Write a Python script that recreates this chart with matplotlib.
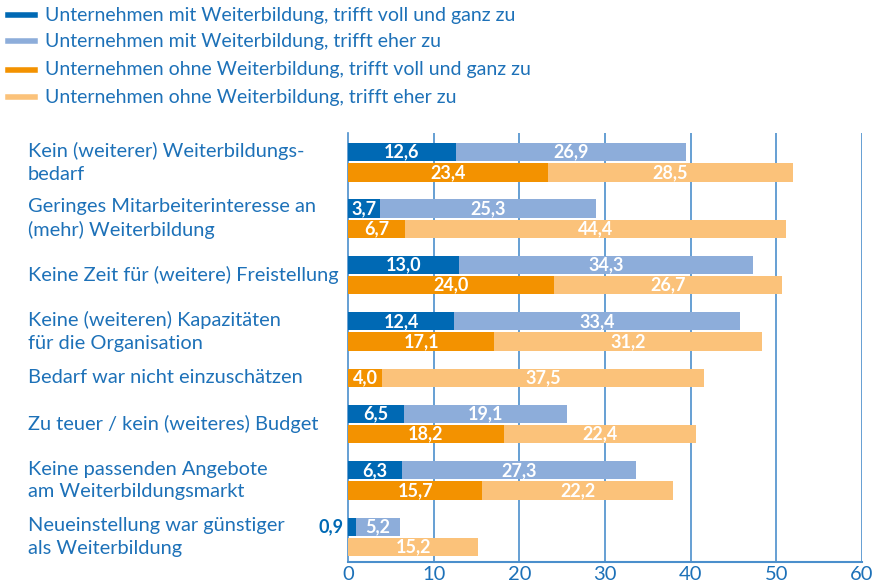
import matplotlib
matplotlib.use("Agg")
import matplotlib.pyplot as plt
import matplotlib.transforms as mtransforms
from matplotlib.lines import Line2D

plt.rcParams['font.family'] = ['Lato', 'DejaVu Sans']

categories = [
    "Kein (weiterer) Weiterbildungs-\nbedarf",
    "Geringes Mitarbeiterinteresse an\n(mehr) Weiterbildung",
    "Keine Zeit für (weitere) Freistellung",
    "Keine (weiteren) Kapazitäten\nfür die Organisation",
    "Bedarf war nicht einzuschätzen",
    "Zu teuer / kein (weiteres) Budget",
    "Keine passenden Angebote\nam Weiterbildungsmarkt",
    "Neueinstellung war günstiger\nals Weiterbildung",
]
mit_voll = [12.6, 3.7, 13.0, 12.4, None, 6.5, 6.3, 0.9]
mit_eher = [26.9, 25.3, 34.3, 33.4, None, 19.1, 27.3, 5.2]
ohne_voll = [23.4, 6.7, 24.0, 17.1, 4.0, 18.2, 15.7, None]
ohne_eher = [28.5, 44.4, 26.7, 31.2, 37.5, 22.4, 22.2, 15.2]

legend_labels = [
    "Unternehmen mit Weiterbildung, trifft voll und ganz zu",
    "Unternehmen mit Weiterbildung, trifft eher zu",
    "Unternehmen ohne Weiterbildung, trifft voll und ganz zu",
    "Unternehmen ohne Weiterbildung, trifft eher zu",
]
xticks = [0, 10, 20, 30, 40, 50, 60]

c_dblue = "#0069b4"
c_lblue = "#8dadda"
c_orange = "#f39200"
c_lorange = "#fbc27a"
c_text = "#1d71b8"
c_grid = "#4b8fcc"


def fmt(v):
    return f"{v:.1f}".replace(".", ",")


fig = plt.figure(figsize=(8.74, 5.86), dpi=100)
ax = fig.add_axes([348 / 874, 1 - 562 / 586, 514 / 874, 429 / 586])

cat_gap = 1.78
bar_h = 0.9
y = 0.0
cat_centers = []
for i in range(len(categories)):
    rows = []
    pairs = [(mit_voll[i], mit_eher[i], c_dblue, c_lblue),
             (ohne_voll[i], ohne_eher[i], c_orange, c_lorange)]
    for voll, eher, cv, ce in pairs:
        if voll is None and eher is None:
            continue
        left = 0.0
        if voll is not None:
            ax.barh(y, voll, height=bar_h, color=cv, zorder=3)
            if voll >= 2:
                ax.text(voll / 2, y, fmt(voll), ha="center", va="center",
                        color="white", fontsize=13, fontweight="bold", zorder=4)
            else:
                ax.text(-0.5, y, fmt(voll), ha="right", va="center",
                        color=c_dblue, fontsize=13, fontweight="bold", zorder=4,
                        clip_on=False)
            left = voll
        if eher is not None:
            ax.barh(y, eher, left=left, height=bar_h, color=ce, zorder=3)
            ax.text(left + eher / 2, y, fmt(eher), ha="center", va="center",
                    color="white", fontsize=13, fontweight="bold", zorder=4)
        rows.append(y)
        y += 1
    cat_centers.append(sum(rows) / len(rows))
    y += cat_gap - 1

last = y - cat_gap
ax.set_ylim(last + 0.74, -0.94)
ax.set_xlim(0, 60)

trans = mtransforms.blended_transform_factory(fig.transFigure, ax.transData)
for lab, cy in zip(categories, cat_centers):
    ax.text(28 / 874, cy, lab, transform=trans, ha="left", va="center",
            color=c_text, fontsize=14.4, linespacing=1.4)

ax.set_xticks(xticks)
ax.set_xticklabels([str(t) for t in xticks])
ax.set_yticks([])
ax.tick_params(axis="x", length=0, labelsize=14.5, labelcolor=c_text, pad=3)
for t in xticks[1:]:
    ax.axvline(t, color=c_grid, lw=1.2, zorder=1)
for s in ["top", "right"]:
    ax.spines[s].set_visible(False)
ax.spines["left"].set_color(c_grid)
ax.spines["left"].set_linewidth(1.2)
ax.spines["bottom"].set_color(c_grid)
ax.spines["bottom"].set_linewidth(1.5)

leg_colors = [c_dblue, c_lblue, c_orange, c_lorange]
leg_y = [15, 41, 70, 97]
for lab, col, ly in zip(legend_labels, leg_colors, leg_y):
    yf = 1 - ly / 586
    fig.add_artist(Line2D([8 / 874, 35 / 874], [yf, yf], color=col, lw=4,
                          transform=fig.transFigure))
    fig.text(45 / 874, yf, lab, ha="left", va="center", color=c_text,
             fontsize=14)

fig.savefig("out.png", dpi=100)
